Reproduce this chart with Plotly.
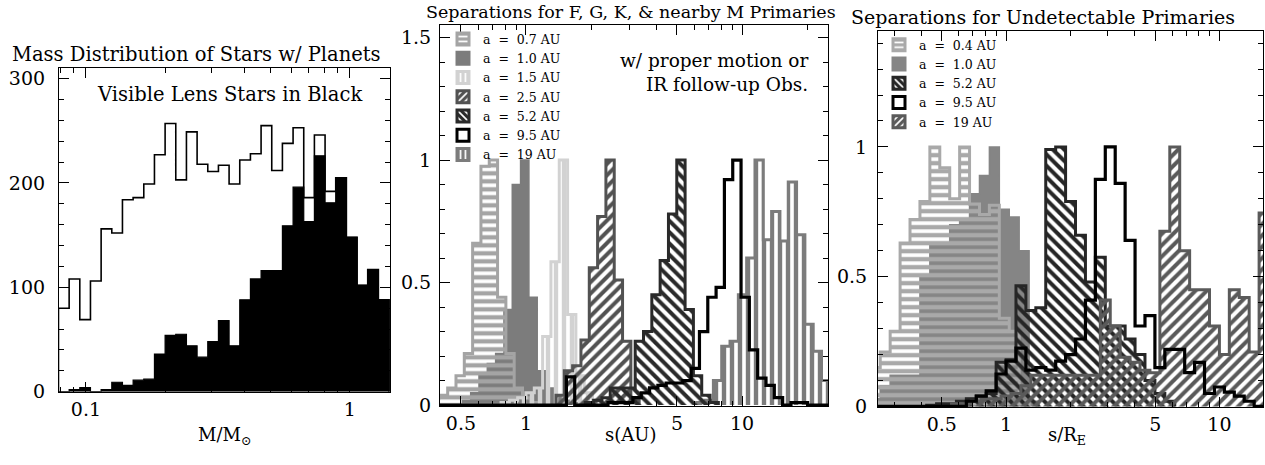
import numpy as np
import plotly.graph_objects as go

W, H = 1265, 465

# ---------------- Left panel: lens-star mass distribution ----------------
mass_bin_start_log = -1.104          # log10(M/Msun) of first bin's left edge
mass_bin_width_log = 0.0404
mass_all_stars = [80, 108, 69, 106, 156, 152, 184, 186, 199, 227, 257, 203, 249, 218, 211,
                  217, 199, 222, 228, 255, 212, 238, 253, 186, 246, 192, 205, 148, 102, 117, 88]
mass_visible = [0, 2, 4, 0, 2, 9, 6, 11, 12, 36, 54, 55, 44, 33, 48,
                68, 44, 88, 108, 116, 116, 159, 196, 163, 226, 181, 205, 148, 102, 117, 88]

# ---------------- Middle panel: F, G, K & nearby M primaries ----------------
mid_bin_width_log = 0.0385
mid_labels = ["a = 0.7 AU", "a = 1.0 AU", "a = 1.5 AU", "a = 2.5 AU",
              "a = 5.2 AU", "a = 9.5 AU", "a = 19 AU"]
mid_a07_start, mid_a07 = -0.4395, [0.03, 0.04, 0.07, 0.12, 0.21, 0.66, 0.975, 1.0, 0.44, 0.21, 0.07, 0.03, 0.01]
mid_a10_start, mid_a10 = -0.2945, [0.02, 0.05, 0.12, 0.17, 0.21, 0.39, 0.90, 1.0, 0.44, 0.14, 0.07, 0.04, 0.02, 0.01]
mid_a15_start, mid_a15 = -0.1155, [0.01, 0.02, 0.03, 0.05, 0.07, 0.28, 0.585, 1.0, 0.37, 0.12, 0.05, 0.02]
mid_a25_start, mid_a25 = 0.139, [0.04, 0.14, 0.16, 0.265, 0.56, 0.77, 1.0, 0.51, 0.26, 0.02]
mid_a52_start, mid_a52 = 0.2745, [0.01, 0.02, 0.03, 0.07, 0.07, 0.07, 0.26, 0.30, 0.45, 0.59, 0.78, 1.0,
                                  0.39, 0.12, 0.04, 0.01]
mid_a95_start, mid_a95 = 0.187, [0.115, 0, 0, 0, 0, 0.01, 0.01, 0.01, 0.03, 0.05, 0.07, 0.08, 0.09, 0.09,
                                 0.10, 0.15, 0.30, 0.44, 0.48, 0.92, 1.0, 0.44, 0.225, 0.11, 0.08, 0.03,
                                 0, 0.01, 0.01, 0]
mid_a19_start, mid_a19 = 0.7905, [0.01, 0.02, 0.10, 0.24, 0.26, 0.45, 0.60, 1.0, 0.675, 0.79, 0.67, 0.91,
                                  0.695, 0.33, 0.22, 0.10]

# ---------------- Right panel: undetectable primaries ----------------
right_bin_width_log = 0.0465
right_labels = ["a = 0.4 AU", "a = 1.0 AU", "a = 5.2 AU", "a = 9.5 AU", "a = 19 AU"]
right_a04_start, right_a04 = -0.636, [0.15, 0.21, 0.29, 0.63, 0.72, 0.79, 1.0, 0.92, 0.80, 1.0, 0.78,
                                      0.74, 0.775, 0.34, 0.29, 0.02]
right_a10_start, right_a10 = -0.636, [0.03, 0.08, 0.12, 0.12, 0.12, 0.50, 0.625, 0.625, 0.70, 0.72,
                                      0.82, 0.89, 1.0, 0.76, 0.73, 0.60, 0.02]
right_a52_start, right_a52 = -0.372, [0.005, 0.01, 0.01, 0.02, 0.03, 0.04, 0.05, 0.17, 0.18, 0.465, 0.37,
                                      0.38, 0.99, 1.0, 0.79, 0.66, 0.48, 0.575, 0.31, 0.31, 0.26, 0.20,
                                      0.10, 0.05, 0.02]
right_a95_start, right_a95 = -0.186, [0.02, 0.04, 0.06, 0.125, 0.175, 0.225, 0.14, 0.15, 0.14, 0.175,
                                      0.20, 0.26, 0.41, 0.875, 1.0, 0.86, 0.64, 0.31, 0.35, 0.15, 0.22,
                                      0.22, 0.13, 0.17, 0.05, 0.075, 0.055, 0.04, 0.02]
right_a19_start, right_a19 = -0.25575, [0.01, 0.01, 0.02, 0.03, 0.03, 0.04, 0.05, 0.08, 0.12, 0.12,
                                        0.12, 0.12, 0.12, 0.12, 0.12, 0.41, 0.31, 0.19, 0.17, 0.14,
                                        0.13, 0.675, 1.0, 0.60, 0.45, 0.45, 0.31, 0.20, 0.45, 0.42,
                                        0.21, 0.745]

FONT = "DejaVu Serif"
NB = "\u00a0"


def legend_text(label):
    # widen the legend text to mimic the wide plotting font of the original
    a, eq, val, unit = label.split(" ")
    return a + NB * 2 + eq + NB * 2 + val + NB + unit


def step_xy(start_log, width_log, vals):
    edges = 10 ** (start_log + width_log * np.arange(len(vals) + 1))
    xs, ys = [edges[0]], [0]
    for i, v in enumerate(vals):
        xs += [edges[i], edges[i + 1]]
        ys += [v, v]
    xs.append(edges[-1])
    ys.append(0)
    return xs, ys


def px_x(p):
    return p / W


def px_y(p):
    return 1 - p / H


fig = go.Figure()

# ---- left ----
xs, ys = step_xy(mass_bin_start_log, mass_bin_width_log, mass_all_stars)
fig.add_trace(go.Scatter(x=xs, y=ys, mode="lines", line=dict(color="black", width=1.6),
                         showlegend=False, xaxis="x", yaxis="y", hoverinfo="skip"))
xs, ys = step_xy(mass_bin_start_log, mass_bin_width_log, mass_visible)
fig.add_trace(go.Scatter(x=xs, y=ys, mode="lines", line=dict(color="black", width=1.2),
                         fill="toself", fillcolor="black",
                         showlegend=False, xaxis="x", yaxis="y", hoverinfo="skip"))


def hist_trace(start, width, vals, color, shape, xa, ya, lw=3.0, solid=False, nofill=False,
               size=7, solidity=0.5, extend=None):
    xs, ys = step_xy(start, width, vals)
    if extend is not None:
        xs = [extend[0]] + xs + [extend[1]]
        ys = [0] + ys + [0]
    kw = dict(x=xs, y=ys, mode="lines", line=dict(color=color, width=lw),
              showlegend=False, xaxis=xa, yaxis=ya, hoverinfo="skip")
    if solid:
        kw.update(fill="toself", fillcolor=color)
    elif not nofill:
        kw.update(fill="toself", fillcolor="rgba(0,0,0,0)",
                  fillpattern=dict(shape=shape, fgcolor=color, bgcolor="rgba(0,0,0,0)",
                                   size=size, solidity=solidity, fillmode="replace"))
    return go.Scatter(**kw)


def legend_trace(name, color, shape, xa, ya, legend, rank, solid=False, nofill=False):
    marker = dict(color=color, line=dict(color=color, width=3))
    if nofill:
        marker = dict(color="white", line=dict(color="black", width=3))
    elif not solid:
        marker["pattern"] = dict(shape=shape, fgcolor="white", bgcolor=color, solidity=0.35, size=6,
                                 fillmode="replace")
    return go.Bar(x=[None], y=[None], name=legend_text(name), marker=marker, xaxis=xa, yaxis=ya,
                  legend=legend, legendrank=rank, showlegend=True, hoverinfo="skip")


# ---- middle ----
MID_RANGE = [-0.398, 1.398]
c07, c10, c15, c25, c52, c19 = "#a4a4a4", "#7c7c7c", "#d2d2d2", "#525252", "#2a2a2a", "#7c7c7c"
fig.add_trace(hist_trace(mid_a19_start, mid_bin_width_log, mid_a19, c19, "|", "x2", "y2", size=8, solidity=0.55))
fig.add_trace(hist_trace(mid_a10_start, mid_bin_width_log, mid_a10, c10, "", "x2", "y2", solid=True, lw=1.5))
fig.add_trace(hist_trace(mid_a07_start, mid_bin_width_log, mid_a07, c07, "-", "x2", "y2", size=8, solidity=0.55))
fig.add_trace(hist_trace(mid_a15_start, mid_bin_width_log, mid_a15, c15, "|", "x2", "y2", size=8, solidity=0.55))
fig.add_trace(hist_trace(mid_a25_start, mid_bin_width_log, mid_a25, c25, "/", "x2", "y2", size=8, solidity=0.5))
fig.add_trace(hist_trace(mid_a52_start, mid_bin_width_log, mid_a52, c52, "\\", "x2", "y2", size=8, solidity=0.5))
fig.add_trace(hist_trace(mid_a95_start, mid_bin_width_log, mid_a95, "black", "", "x2", "y2", nofill=True,
                         lw=3.2, extend=(10 ** MID_RANGE[0], 10 ** MID_RANGE[1])))

mid_styles = [(c07, "-", False, False), (c10, "", True, False), (c15, "|", False, False),
              (c25, "/", False, False), (c52, "\\", False, False), ("black", "", False, True),
              (c19, "|", False, False)]
for i, (lab, (c, s, so, nf)) in enumerate(zip(mid_labels, mid_styles)):
    fig.add_trace(legend_trace(lab, c, s, "x2", "y2", "legend", i + 1, solid=so, nofill=nf))

# ---- right ----
RIGHT_RANGE = [-0.6, 1.204]
r04c, r10c, r52c, r19c = "#a9a9a9", "#858585", "#262626", "#5a5a5a"
fig.add_trace(hist_trace(right_a10_start, right_bin_width_log, right_a10, r10c, "", "x3", "y3", solid=True, lw=1.5))
fig.add_trace(hist_trace(right_a04_start, right_bin_width_log, right_a04, r04c, "-", "x3", "y3", size=8, solidity=0.55))
fig.add_trace(hist_trace(right_a52_start, right_bin_width_log, right_a52, r52c, "\\", "x3", "y3", size=8, solidity=0.5))
fig.add_trace(hist_trace(right_a19_start, right_bin_width_log, right_a19, r19c, "/", "x3", "y3", size=8, solidity=0.5))
fig.add_trace(hist_trace(right_a95_start, right_bin_width_log, right_a95, "black", "", "x3", "y3", nofill=True,
                         lw=3.2, extend=(10 ** RIGHT_RANGE[0], 10 ** RIGHT_RANGE[1])))
right_styles = [(r04c, "-", False, False), (r10c, "", True, False), (r52c, "\\", False, False),
                ("black", "", False, True), (r19c, "/", False, False)]
for i, (lab, (c, s, so, nf)) in enumerate(zip(right_labels, right_styles)):
    fig.add_trace(legend_trace(lab, c, s, "x3", "y3", "legend2", i + 1, solid=so, nofill=nf))


def axis_common(**kw):
    d = dict(showline=True, linecolor="black", linewidth=1.2, mirror="allticks", ticks="inside",
             ticklen=10, tickwidth=1.2, tickcolor="black", showgrid=False, zeroline=False,
             tickfont=dict(family=FONT, size=19, color="black"), fixedrange=True)
    d.update(kw)
    return d


log_minor_left = [0.08, 0.09, 0.2, 0.3, 0.4, 0.5, 0.6, 0.7, 0.8, 0.9]
log_minor_mid = [0.4, 0.6, 0.7, 0.8, 0.9, 2, 3, 4, 6, 7, 8, 9, 20]
log_minor_right = [0.3, 0.4, 0.6, 0.7, 0.8, 0.9, 2, 3, 4, 6, 7, 8, 9]

fig.update_layout(
    width=W, height=H, margin=dict(l=0, r=0, t=0, b=0),
    paper_bgcolor="white", plot_bgcolor="white",
    font=dict(family=FONT, color="black", size=15),
    barmode="overlay",
    xaxis=axis_common(domain=[px_x(59), px_x(390)], type="log", range=[-1.102, 0.152],
                      tickvals=[0.1, 1], ticktext=["0.1", "1"], anchor="y",
                      minor=dict(tickvals=log_minor_left, ticklen=5, ticks="inside", tickcolor="black")),
    yaxis=axis_common(domain=[px_y(401), px_y(69)], range=[0, 310], tickvals=[0, 100, 200, 300],
                      anchor="x", ticklabelstandoff=9,
                      minor=dict(dtick=20, ticklen=5, ticks="inside", tickcolor="black")),
    xaxis2=axis_common(domain=[px_x(440), px_x(828)], type="log", range=MID_RANGE,
                       tickvals=[0.5, 1, 5, 10], ticktext=["0.5", "1", "5", "10"], anchor="y2",
                       minor=dict(tickvals=log_minor_mid, ticklen=5, ticks="inside", tickcolor="black")),
    yaxis2=axis_common(domain=[px_y(416), px_y(25)], range=[-0.005, 1.55], tickvals=[0, 0.5, 1, 1.5],
                       ticktext=["0", "0.5", "1", "1.5"], anchor="x2", ticklabelstandoff=4,
                       minor=dict(dtick=0.1, ticklen=5, ticks="inside", tickcolor="black")),
    xaxis3=axis_common(domain=[px_x(878), px_x(1263)], type="log", range=RIGHT_RANGE,
                       tickvals=[0.5, 1, 5, 10], ticktext=["0.5", "1", "5", "10"], anchor="y3",
                       minor=dict(tickvals=log_minor_right, ticklen=5, ticks="inside", tickcolor="black")),
    yaxis3=axis_common(domain=[px_y(417), px_y(31)], range=[-0.003, 1.446], tickvals=[0, 0.5, 1],
                       ticktext=["0", "0.5", "1"], anchor="x3", ticklabelstandoff=6,
                       minor=dict(dtick=0.1, ticklen=5, ticks="inside", tickcolor="black")),
    legend=dict(x=px_x(443), y=px_y(24), xanchor="left", yanchor="top", bgcolor="rgba(0,0,0,0)",
                font=dict(family=FONT, size=12.5), itemwidth=30, tracegroupgap=0, traceorder="normal"),
    legend2=dict(x=px_x(879), y=px_y(30), xanchor="left", yanchor="top", bgcolor="rgba(0,0,0,0)",
                 font=dict(family=FONT, size=12.5), itemwidth=30, tracegroupgap=0, traceorder="normal"),
)

ann = [
    dict(text="Mass Distribution of Stars w/ Planets", x=px_x(196), y=px_y(55), size=19.5),
    dict(text="Separations for F, G, K, & nearby M Primaries", x=px_x(631), y=px_y(11), size=17.5),
    dict(text="Separations for Undetectable Primaries", x=px_x(1043), y=px_y(16), size=19),
    dict(text="Visible Lens Stars in Black", x=px_x(229), y=px_y(96), size=19.5),
    dict(text="M/M<sub>⊙</sub>", x=px_x(225), y=px_y(447), size=18),
    dict(text="s(AU)", x=px_x(630), y=px_y(445), size=18),
    dict(text="s/R<sub>E</sub>", x=px_x(1067), y=px_y(447), size=18),
]
for a in ann:
    fig.add_annotation(text=a["text"], x=a["x"], y=a["y"], xref="paper", yref="paper",
                       showarrow=False, xanchor="center", yanchor="middle",
                       font=dict(family=FONT, size=a["size"], color="black"))
for t, yy in [("w/ proper motion or", 61), ("IR follow-up Obs.", 86)]:
    fig.add_annotation(text=t, x=px_x(810), y=px_y(yy), xref="paper", yref="paper", showarrow=False,
                       xanchor="right", yanchor="middle", font=dict(family=FONT, size=18.5, color="black"))

fig.write_html("out.html", config={"displayModeBar": False},
               post_script="document.body.style.margin='0px';document.body.style.overflow='hidden';")
